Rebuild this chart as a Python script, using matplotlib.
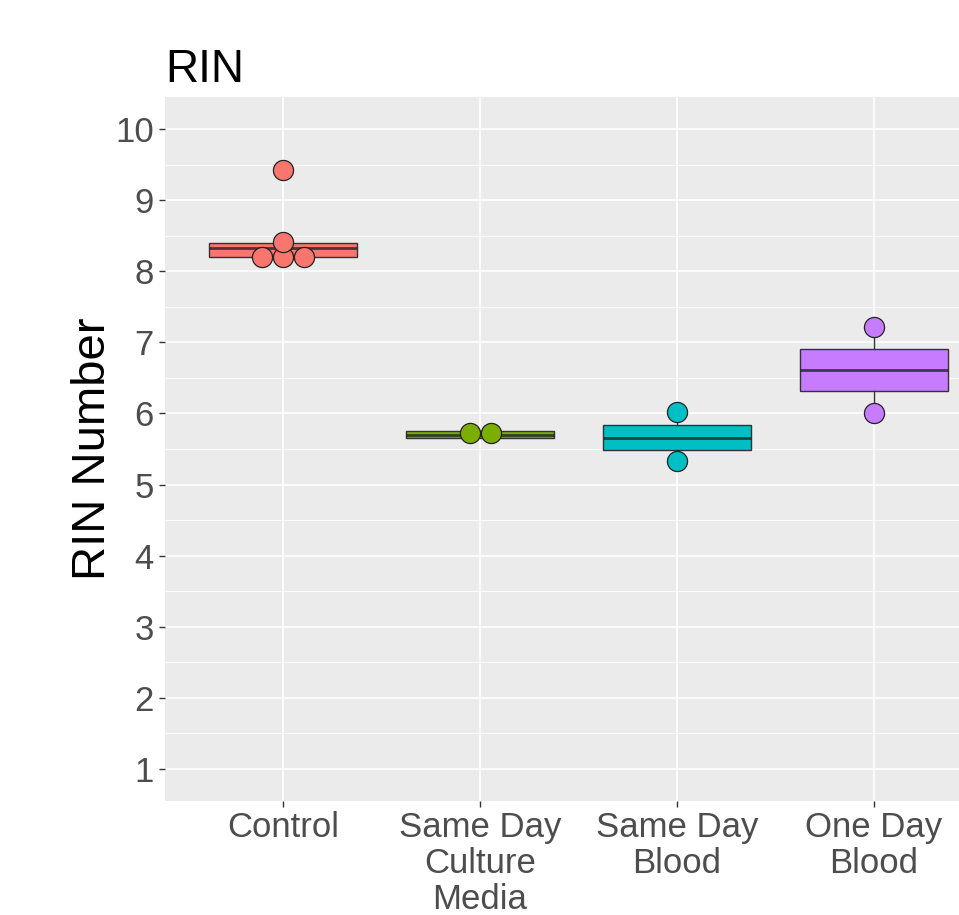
from collections import Counter

import matplotlib
matplotlib.use("Agg")
import matplotlib.pyplot as plt
import numpy as np

plt.rcParams['font.family'] = ['Liberation Sans', 'DejaVu Sans']

# groups and colours (ggplot default hues)
groups = ['Control', 'Same Day\nCulture\nMedia', 'Same Day\nBlood', 'One Day\nBlood']
colours = ['#F8766D', '#7CAE00', '#00BFC4', '#C77CFF']

# box statistics
q1 = [8.20, 5.66, 5.48, 6.32]
med = [8.33, 5.70, 5.66, 6.61]
q3 = [8.40, 5.76, 5.84, 6.90]
whislo = [8.20, 5.66, 5.40, 6.01]
whishi = [8.40, 5.76, 5.95, 7.21]

# dot positions (binned dotplot values)
dots = [
    [8.2, 8.2, 8.2, 8.41, 9.42],
    [5.72, 5.72],
    [5.33, 6.02],
    [6.01, 7.21],
]

fig = plt.figure(figsize=(9.59, 9.15), dpi=100)
W, H = 959, 915
left, right, top, bottom = 165, 992, 97, 801
ax = fig.add_axes([left / W, 1 - bottom / H, (right - left) / W, (bottom - top) / H])

ax.set_facecolor('#EBEBEB')
for s in ax.spines.values():
    s.set_visible(False)

positions = np.arange(1, len(groups) + 1)
stats = []
for i in range(len(groups)):
    stats.append(dict(q1=q1[i], med=med[i], q3=q3[i], whislo=whislo[i], whishi=whishi[i], fliers=[]))

bp = ax.bxp(stats, positions=positions, widths=0.75, patch_artist=True, showcaps=False,
            showfliers=False,
            boxprops=dict(edgecolor='#333333', linewidth=1.0),
            medianprops=dict(color='#222222', linewidth=2.0, alpha=0.8),
            whiskerprops=dict(color='#333333', linewidth=1.0))
for patch, c in zip(bp['boxes'], colours):
    patch.set_facecolor(c)
    patch.set_zorder(2)
for ln in bp['medians'] + bp['whiskers']:
    ln.set_zorder(2.5)

# dotplot: stack equal values side by side, centred
dot_w = 0.107
for i, vals in enumerate(dots):
    counts = Counter(vals)
    for v, n in counts.items():
        xs = positions[i] + (np.arange(n) - (n - 1) / 2) * dot_w
        ax.scatter(xs, [v] * n, s=14.5 ** 2, color=colours[i], edgecolor='#222222',
                   linewidth=0.9, zorder=3)

ax.set_xlim(0.4, 4.6)
ax.set_ylim(0.55, 10.45)
ax.set_yticks(range(1, 11))
ax.set_yticks(np.arange(1.5, 10.5, 1), minor=True)
ax.set_xticks(positions)
ax.set_xticklabels(groups, linespacing=1.13)
ax.grid(True, which='major', color='white', linewidth=1.2)
ax.grid(True, which='minor', axis='y', color='white', linewidth=0.6)
ax.set_axisbelow(True)
ax.tick_params(axis='both', which='major', labelsize=25, labelcolor='#4D4D4D',
               color='#333333', length=4, width=1, pad=4)
ax.tick_params(axis='x', which='major', pad=3)
ax.tick_params(axis='y', which='minor', length=0)

ax.set_ylabel('RIN Number', fontsize=34, color='black', labelpad=0)
fig.text(left / W, 1 - 82 / H, 'RIN', fontsize=33, color='black', va='baseline', ha='left')

fig.savefig('out.png', dpi=100)
